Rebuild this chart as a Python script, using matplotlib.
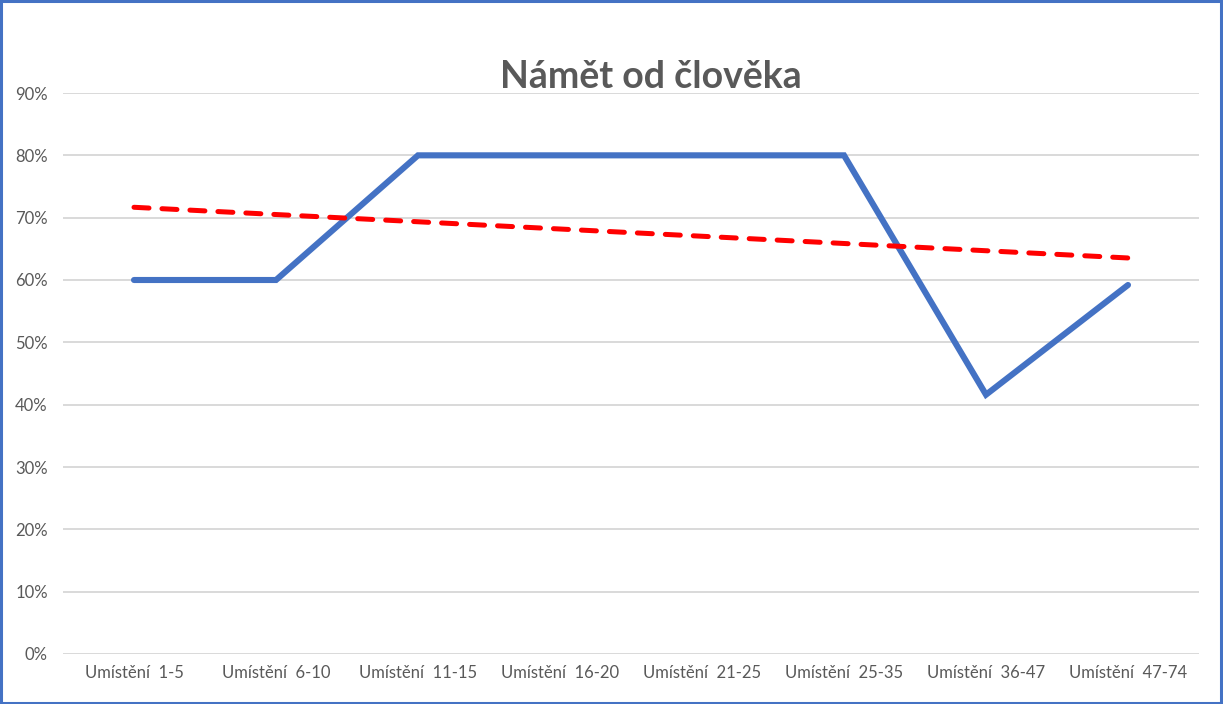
import matplotlib
matplotlib.use("Agg")
import matplotlib.pyplot as plt
import numpy as np
from matplotlib.ticker import PercentFormatter
from matplotlib.patches import Rectangle

categories = ["Umístění  1-5", "Umístění  6-10", "Umístění  11-15", "Umístění  16-20",
              "Umístění  21-25", "Umístění  25-35", "Umístění  36-47", "Umístění  47-74"]
values = [0.60, 0.60, 0.80, 0.80, 0.80, 0.80, 0.416, 0.592]
yticks = [0.0, 0.1, 0.2, 0.3, 0.4, 0.5, 0.6, 0.7, 0.8, 0.9]

plt.rcParams['font.family'] = ['Lato', 'DejaVu Sans']
text_color = "#595959"

fig = plt.figure(figsize=(12.23, 7.04), dpi=100)
ax = fig.add_axes([63/1223, 1-654/704, (1199-63)/1223, (654-93)/704])

x = np.arange(len(categories))
ax.plot(x, values, color="#4472C4", linewidth=4.4, solid_capstyle='round', solid_joinstyle='miter', zorder=3)

coef = np.polyfit(x, values, 1)
trend = np.polyval(coef, x)
ax.plot([x[0], x[-1]], [trend[0], trend[-1]], color="#FF0000", linewidth=3.6,
        dashes=(3.0, 2.6), dash_capstyle='round', zorder=4)

ax.set_xlim(-0.5, len(categories) - 0.5)
ax.set_ylim(0, 0.9)
ax.set_yticks(yticks)
ax.yaxis.set_major_formatter(PercentFormatter(1.0, decimals=0))
ax.set_xticks(x)
ax.set_xticklabels(categories)
ax.tick_params(axis='both', length=0, labelsize=12, colors=text_color)
ax.tick_params(axis='y', pad=11)
ax.tick_params(axis='x', pad=8)
for s in ax.spines.values():
    s.set_visible(False)
ax.grid(axis='y', color="#D9D9D9", linewidth=1.4)
ax.set_axisbelow(True)

fig.text(651/1223, 1-77/704, "Námět od člověka", ha='center', va='center',
         fontsize=27, fontweight='bold', color=text_color)

fig.patches.append(Rectangle((0.001, 0.002), 0.997, 0.996, transform=fig.transFigure,
                             fill=False, edgecolor="#4472C4", linewidth=2.2))

fig.savefig("out.png", dpi=100)
